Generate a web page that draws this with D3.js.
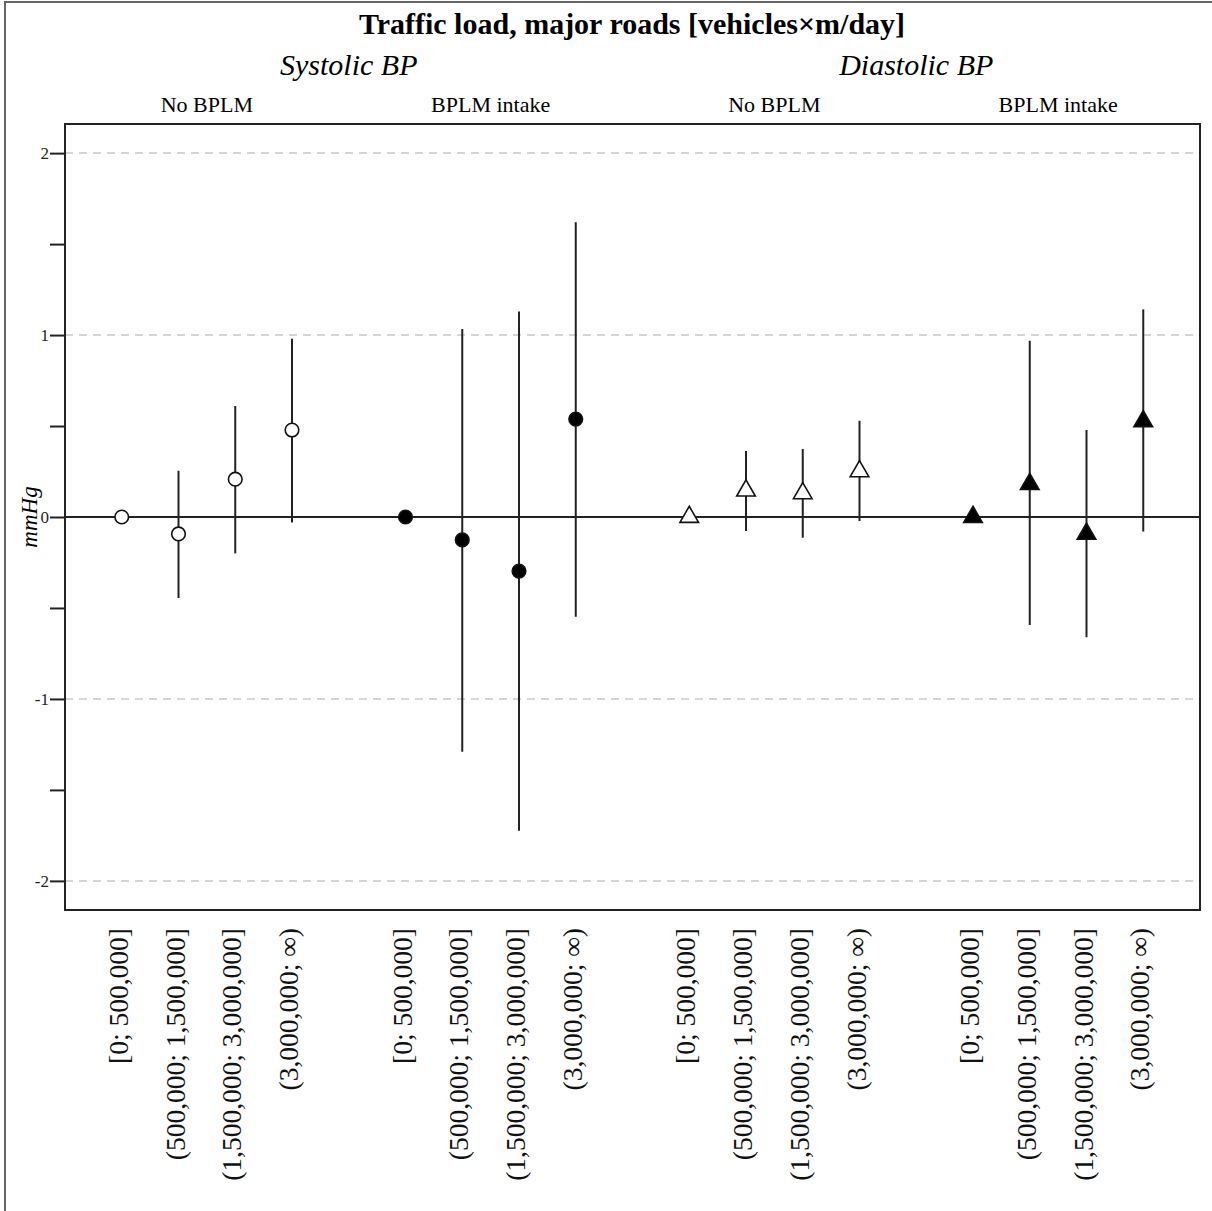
<!DOCTYPE html>
<html>
<head>
<meta charset="utf-8">
<script src="https://cdn.jsdelivr.net/npm/d3@7"></script>
<style>
  body { margin: 0; background: #fff; }
  svg { display: block; font-family: "Liberation Serif", "Times New Roman", serif; }
</style>
</head>
<body>
<svg id="chart" width="1212" height="1211"></svg>
<script>
// labels
const title = "Traffic load, major roads [vehicles×m/day]";
const outcomes = ["Systolic BP", "Diastolic BP"];
const subgroups = ["No BPLM", "BPLM intake"];
const categories = ["[0; 500,000]", "(500,000; 1,500,000]", "(1,500,000; 3,000,000]", "(3,000,000; ∞)"];
const yMajor = [-2, -1, 0, 1, 2];
const yMinor = [-1.5, -0.5, 0.5, 1.5];

// estimates + 95% CI per panel (reference category has no CI)
const sysNoEst = [0, -0.093, 0.208, 0.478];
const sysNoLo  = [null, -0.445, -0.20, -0.03];
const sysNoHi  = [null, 0.254, 0.61, 0.98];

const sysYesEst = [0, -0.126, -0.297, 0.538];
const sysYesLo  = [null, -1.29, -1.724, -0.548];
const sysYesHi  = [null, 1.033, 1.13, 1.62];

const diaNoEst = [0, 0.145, 0.13, 0.251];
const diaNoLo  = [null, -0.077, -0.114, -0.022];
const diaNoHi  = [null, 0.363, 0.374, 0.529];

const diaYesEst = [0, 0.181, -0.093, 0.526];
const diaYesLo  = [null, -0.593, -0.661, -0.08];
const diaYesHi  = [null, 0.969, 0.478, 1.141];

const panels = [
  {est: sysNoEst, lo: sysNoLo, hi: sysNoHi, shape: "circle", fill: "#fff"},
  {est: sysYesEst, lo: sysYesLo, hi: sysYesHi, shape: "circle", fill: "#000"},
  {est: diaNoEst, lo: diaNoLo, hi: diaNoHi, shape: "triangle", fill: "#fff"},
  {est: diaYesEst, lo: diaYesLo, hi: diaYesHi, shape: "triangle", fill: "#000"}
];

const svg = d3.select("#chart");
const pLeft = 65, pRight = 1200, pTop = 124, pBottom = 910;

const x = d3.scaleLinear().domain([-1, 19]).range([pLeft, pRight]);
const y = d3.scaleLinear().domain([-2.16, 2.16]).range([pBottom, pTop]);
const slot = (p, i) => p * 5 + i;

// outer frame
svg.append("rect").attr("x", 5).attr("y", 2).attr("width", 1210).attr("height", 1212)
  .attr("fill", "none").attr("stroke", "#666").attr("stroke-width", 2);

// grid
svg.append("g").selectAll("line").data(yMajor.filter(v => v !== 0)).enter().append("line")
  .attr("x1", pLeft).attr("x2", pRight)
  .attr("y1", d => y(d)).attr("y2", d => y(d))
  .attr("stroke", "#c8c8c8").attr("stroke-width", 1.5).attr("stroke-dasharray", "8,6");

svg.append("line").attr("x1", pLeft).attr("x2", pRight)
  .attr("y1", y(0)).attr("y2", y(0)).attr("stroke", "#222").attr("stroke-width", 2);

// y axis
const yAxis = svg.append("g").attr("transform", `translate(${pLeft},0)`)
  .call(d3.axisLeft(y).tickValues(yMajor).tickSize(15).tickFormat(d => String(d)));
svg.append("g").attr("transform", `translate(${pLeft},0)`)
  .call(d3.axisLeft(y).tickValues(yMinor).tickSize(15).tickFormat(""))
  .call(g => g.select(".domain").remove())
  .selectAll("line").attr("stroke", "#222").attr("stroke-width", 2);
yAxis.attr("font-family", "Liberation Serif").attr("font-size", 17);
yAxis.select(".domain").remove();
yAxis.selectAll("line").attr("stroke", "#222").attr("stroke-width", 2);
yAxis.selectAll("text").attr("x", -16).attr("fill", "#222");

svg.append("text").attr("transform", `translate(37,${(pTop + pBottom) / 2}) rotate(-90)`)
  .attr("text-anchor", "middle").attr("font-size", 23).attr("font-style", "italic")
  .text("mmHg");

// error bars + points
panels.forEach((p, pi) => {
  const g = svg.append("g");
  const rows = p.est.map((e, i) => ({e, lo: p.lo[i], hi: p.hi[i], cx: x(slot(pi, i))}));
  g.selectAll("line").data(rows.filter(r => r.lo !== null)).enter().append("line")
    .attr("x1", d => d.cx).attr("x2", d => d.cx)
    .attr("y1", d => y(d.lo)).attr("y2", d => y(d.hi))
    .attr("stroke", "#222").attr("stroke-width", 2);
  const sym = p.shape === "circle" ? d3.symbol(d3.symbolCircle, 145) : d3.symbol(d3.symbolTriangle, 150);
  g.selectAll("path").data(rows).enter().append("path")
    .attr("d", sym)
    .attr("transform", d => `translate(${d.cx},${y(d.e)})`)
    .attr("fill", p.fill).attr("stroke", "#111").attr("stroke-width", 1.6);
});

// plot frame
svg.append("rect").attr("x", pLeft).attr("y", pTop)
  .attr("width", pRight - pLeft).attr("height", pBottom - pTop)
  .attr("fill", "none").attr("stroke", "#222").attr("stroke-width", 2);

// category labels
panels.forEach((p, pi) => {
  svg.append("g").selectAll("text").data(categories).enter().append("text")
    .attr("transform", (d, i) => `translate(${x(slot(pi, i)) + 6},928) rotate(-90)`)
    .attr("text-anchor", "end").attr("font-size", 27.5).attr("fill", "#111")
    .text(d => d);
});

// headers
svg.append("text").attr("x", 632).attr("y", 34).attr("text-anchor", "middle")
  .attr("font-size", 30).attr("font-weight", "bold").text(title);

outcomes.forEach((o, oi) => {
  svg.append("text").attr("x", (x(slot(oi * 2, 0)) + x(slot(oi * 2 + 1, 3))) / 2).attr("y", 75)
    .attr("text-anchor", "middle").attr("font-size", 30).attr("font-style", "italic").text(o);
});

d3.range(4).forEach(pi => {
  svg.append("text").attr("x", (x(slot(pi, 0)) + x(slot(pi, 3))) / 2).attr("y", 112)
    .attr("text-anchor", "middle").attr("font-size", 22).text(subgroups[pi % 2]);
});
</script>
</body>
</html>
